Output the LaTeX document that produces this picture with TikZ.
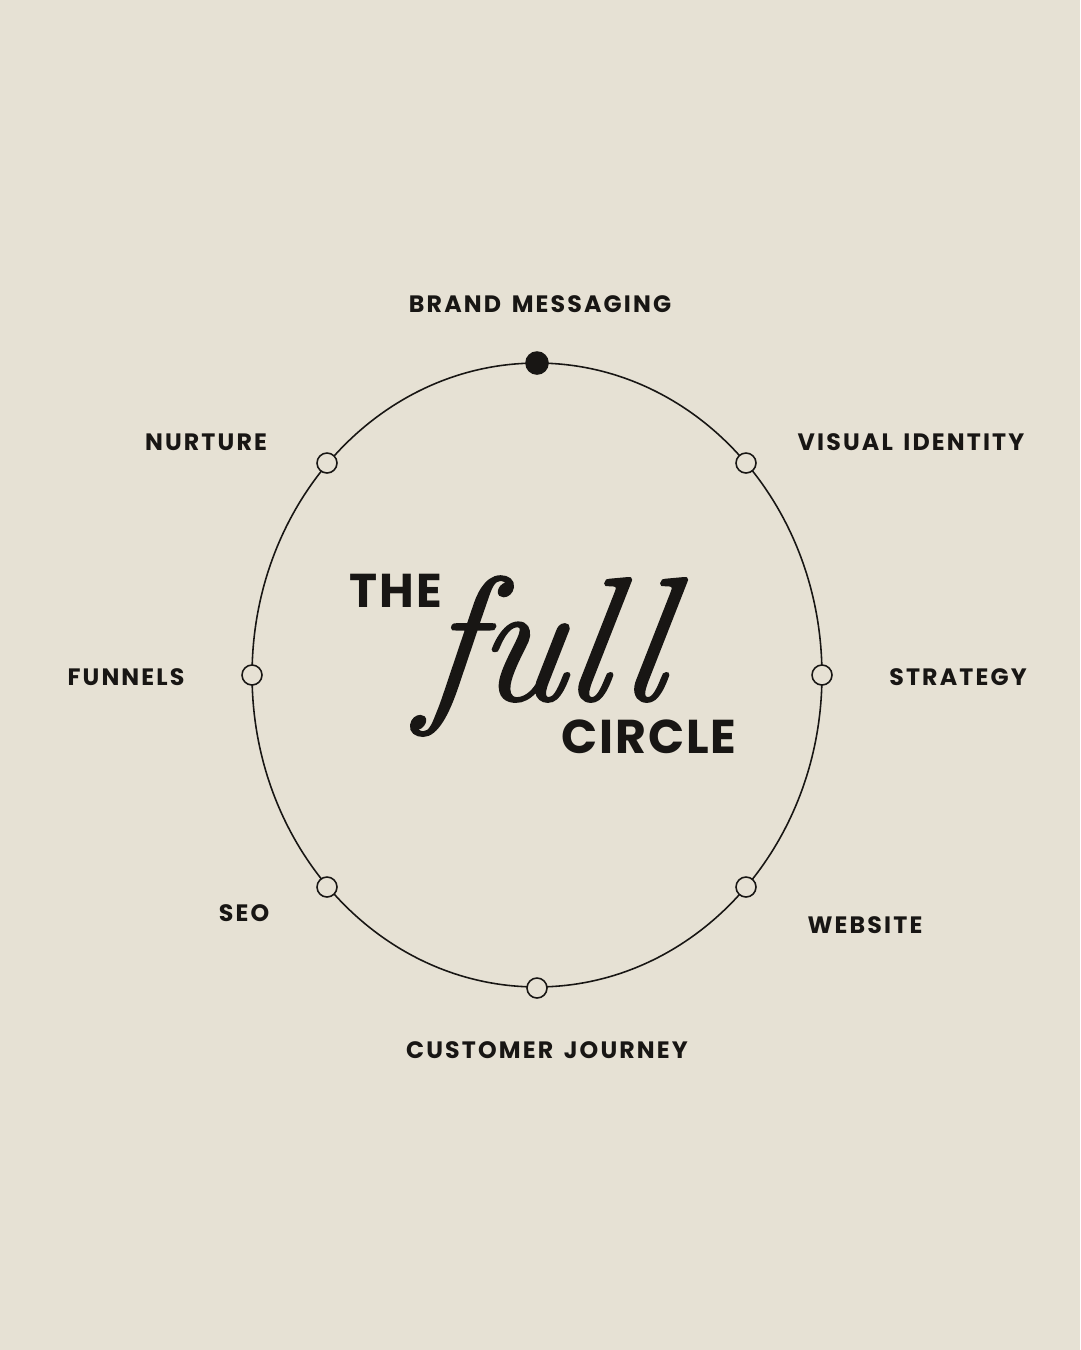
\documentclass[tikz,border=0pt]{standalone}
\usepackage{fontspec}
\setmainfont{Poppins}
\newfontfamily\handfont{Latin Modern Roman}[FakeSlant=0.15, FakeBold=1.3]
\usetikzlibrary{positioning}
\definecolor{paper}{RGB}{230,225,212}
\definecolor{ink}{RGB}{24,22,20}
\tikzstyle{stop} = [circle, draw=ink, fill=paper, line width=0.9pt,
  inner sep=0pt, minimum size=0.4cm]
\tikzstyle{start} = [stop, fill=ink, minimum size=0.44cm]
\tikzstyle{topic} = [inner sep=0pt, text=ink,
  font=\fontsize{13.5}{16}\selectfont\bfseries\addfontfeatures{LetterSpace=9}]
\tikzstyle{heading} = [inner sep=0pt, text=ink,
  font=\fontsize{27}{30}\selectfont\bfseries\addfontfeatures{LetterSpace=4}]

\begin{document}
\begin{tikzpicture}[x=0.02cm, y=-0.02cm]
  \fill[paper] (0,0) rectangle (1080,1350);
  \useasboundingbox (0,0) rectangle (1080,1350);

  % the ring
  \draw[ink, line width=0.9pt] (537,675) ellipse [x radius=5.7cm, y radius=6.24cm];

  \node[start] (brand)    at (537,363) {};
  \node[stop]  (visual)   at (746,463) {};
  \node[stop]  (strategy) at (822,675) {};
  \node[stop]  (website)  at (746,887) {};
  \node[stop]  (journey)  at (537,988) {};
  \node[stop]  (seo)      at (327,887) {};
  \node[stop]  (funnels)  at (252,675) {};
  \node[stop]  (nurture)  at (327,463) {};

  % labels round the ring
  \node[topic] (brandtxt)    at (540,304)  {BRAND\hspace{0.45em}MESSAGING};
  \node[topic] (visualtxt)   at (911,442)  {VISUAL\hspace{0.45em}IDENTITY};
  \node[topic] (strategytxt) at (958,677)  {STRATEGY};
  \node[topic] (websitetxt)  at (865,925)  {WEBSITE};
  \node[topic] (journeytxt)  at (547,1050) {CUSTOMER\hspace{0.45em}JOURNEY};
  \node[topic] (seotxt)      at (244,913)  {SEO};
  \node[topic] (funnelstxt)  at (126,677)  {FUNNELS};
  \node[topic] (nurturetxt)  at (206,442)  {NURTURE};

  % title
  \node[heading] (the)    at (396,591) {THE};
  \node[inner sep=0pt, text=ink, anchor=base, xscale=0.98,
        font=\handfont\itshape\fontsize{100}{100}\selectfont] (full) at (540,700) {full};
  \node[heading] (circle) at (649,737) {CIRCLE};
\end{tikzpicture}
\end{document}
